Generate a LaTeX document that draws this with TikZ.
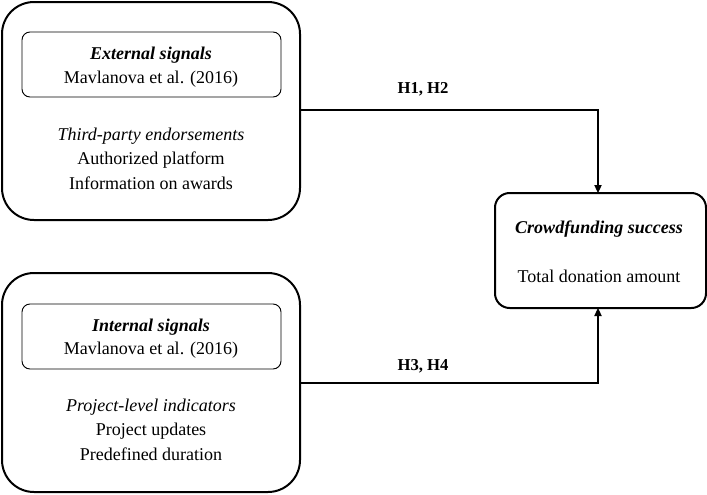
\documentclass[tikz,border=0pt]{standalone}
\usepackage{fontspec}
\setmainfont{Liberation Serif}
\usetikzlibrary{arrows.meta}
\begin{document}
\begin{tikzpicture}[x=0.75pt,y=-0.75pt,
  outerbox/.style={draw, line width=1.5pt, rounded corners=24pt, inner sep=0pt},
  innerbox/.style={draw, line width=0.7pt, rounded corners=6pt, inner sep=0pt},
  txt/.style={font=\fontsize{13.5}{17.5}\selectfont, align=center, inner sep=0pt},
  lbl/.style={font=\fontsize{12.5}{15}\selectfont\bfseries, inner sep=0pt},
  conn/.style={line width=0.8pt, -{Triangle[length=6pt,width=5.5pt]}}]
\useasboundingbox (0,0) rectangle (707,494);
% outer boxes
\node[outerbox, minimum width=223.5pt, minimum height=163.5pt] (top) at (151,111) {};
\node[outerbox, minimum width=223.5pt, minimum height=164.25pt] (bot) at (151,382.5) {};
\node[innerbox, minimum width=194.25pt, minimum height=48.75pt] (topin) at (151.5,64.5) {};
\node[innerbox, minimum width=194.25pt, minimum height=48.75pt] (botin) at (151.5,336.5) {};
\node[outerbox, rounded corners=11pt, minimum width=158.25pt, minimum height=86.25pt] (crowd) at (600.5,250.5) {};
% texts
\node[txt] (t1) at (151,55) {\textbf{\textit{External signals}}};
\node[txt] (t2) at (151,79) {Mavlanova et al. (2016)};
\node[txt] (t3) at (151,136) {\textit{Third-party endorsements}};
\node[txt] (t4) at (151,160) {Authorized platform};
\node[txt] (t5) at (151,183) {Information on awards};
\node[txt] (b1) at (151,327) {\textbf{\textit{Internal signals}}};
\node[txt] (b2) at (151,350) {Mavlanova et al. (2016)};
\node[txt] (b3) at (151,407) {\textit{Project-level indicators}};
\node[txt] (b4) at (151,431) {Project updates};
\node[txt] (b5) at (151,454) {Predefined duration};
\node[txt] (c1) at (599,229) {\textbf{\textit{Crowdfunding success}}};
\node[txt] (c2) at (599,276) {Total donation amount};
\node[lbl] (h12) at (423,89) {H1, H2};
\node[lbl] (h34) at (423,366) {H3, H4};
% connectors
\coordinate (ctop) at (598,193);
\coordinate (cbot) at (598,308);
\draw[conn] (top.east |- 0,110) -| (ctop);
\draw[conn] (bot.east |- 0,383) -| (cbot);
\end{tikzpicture}
\end{document}
